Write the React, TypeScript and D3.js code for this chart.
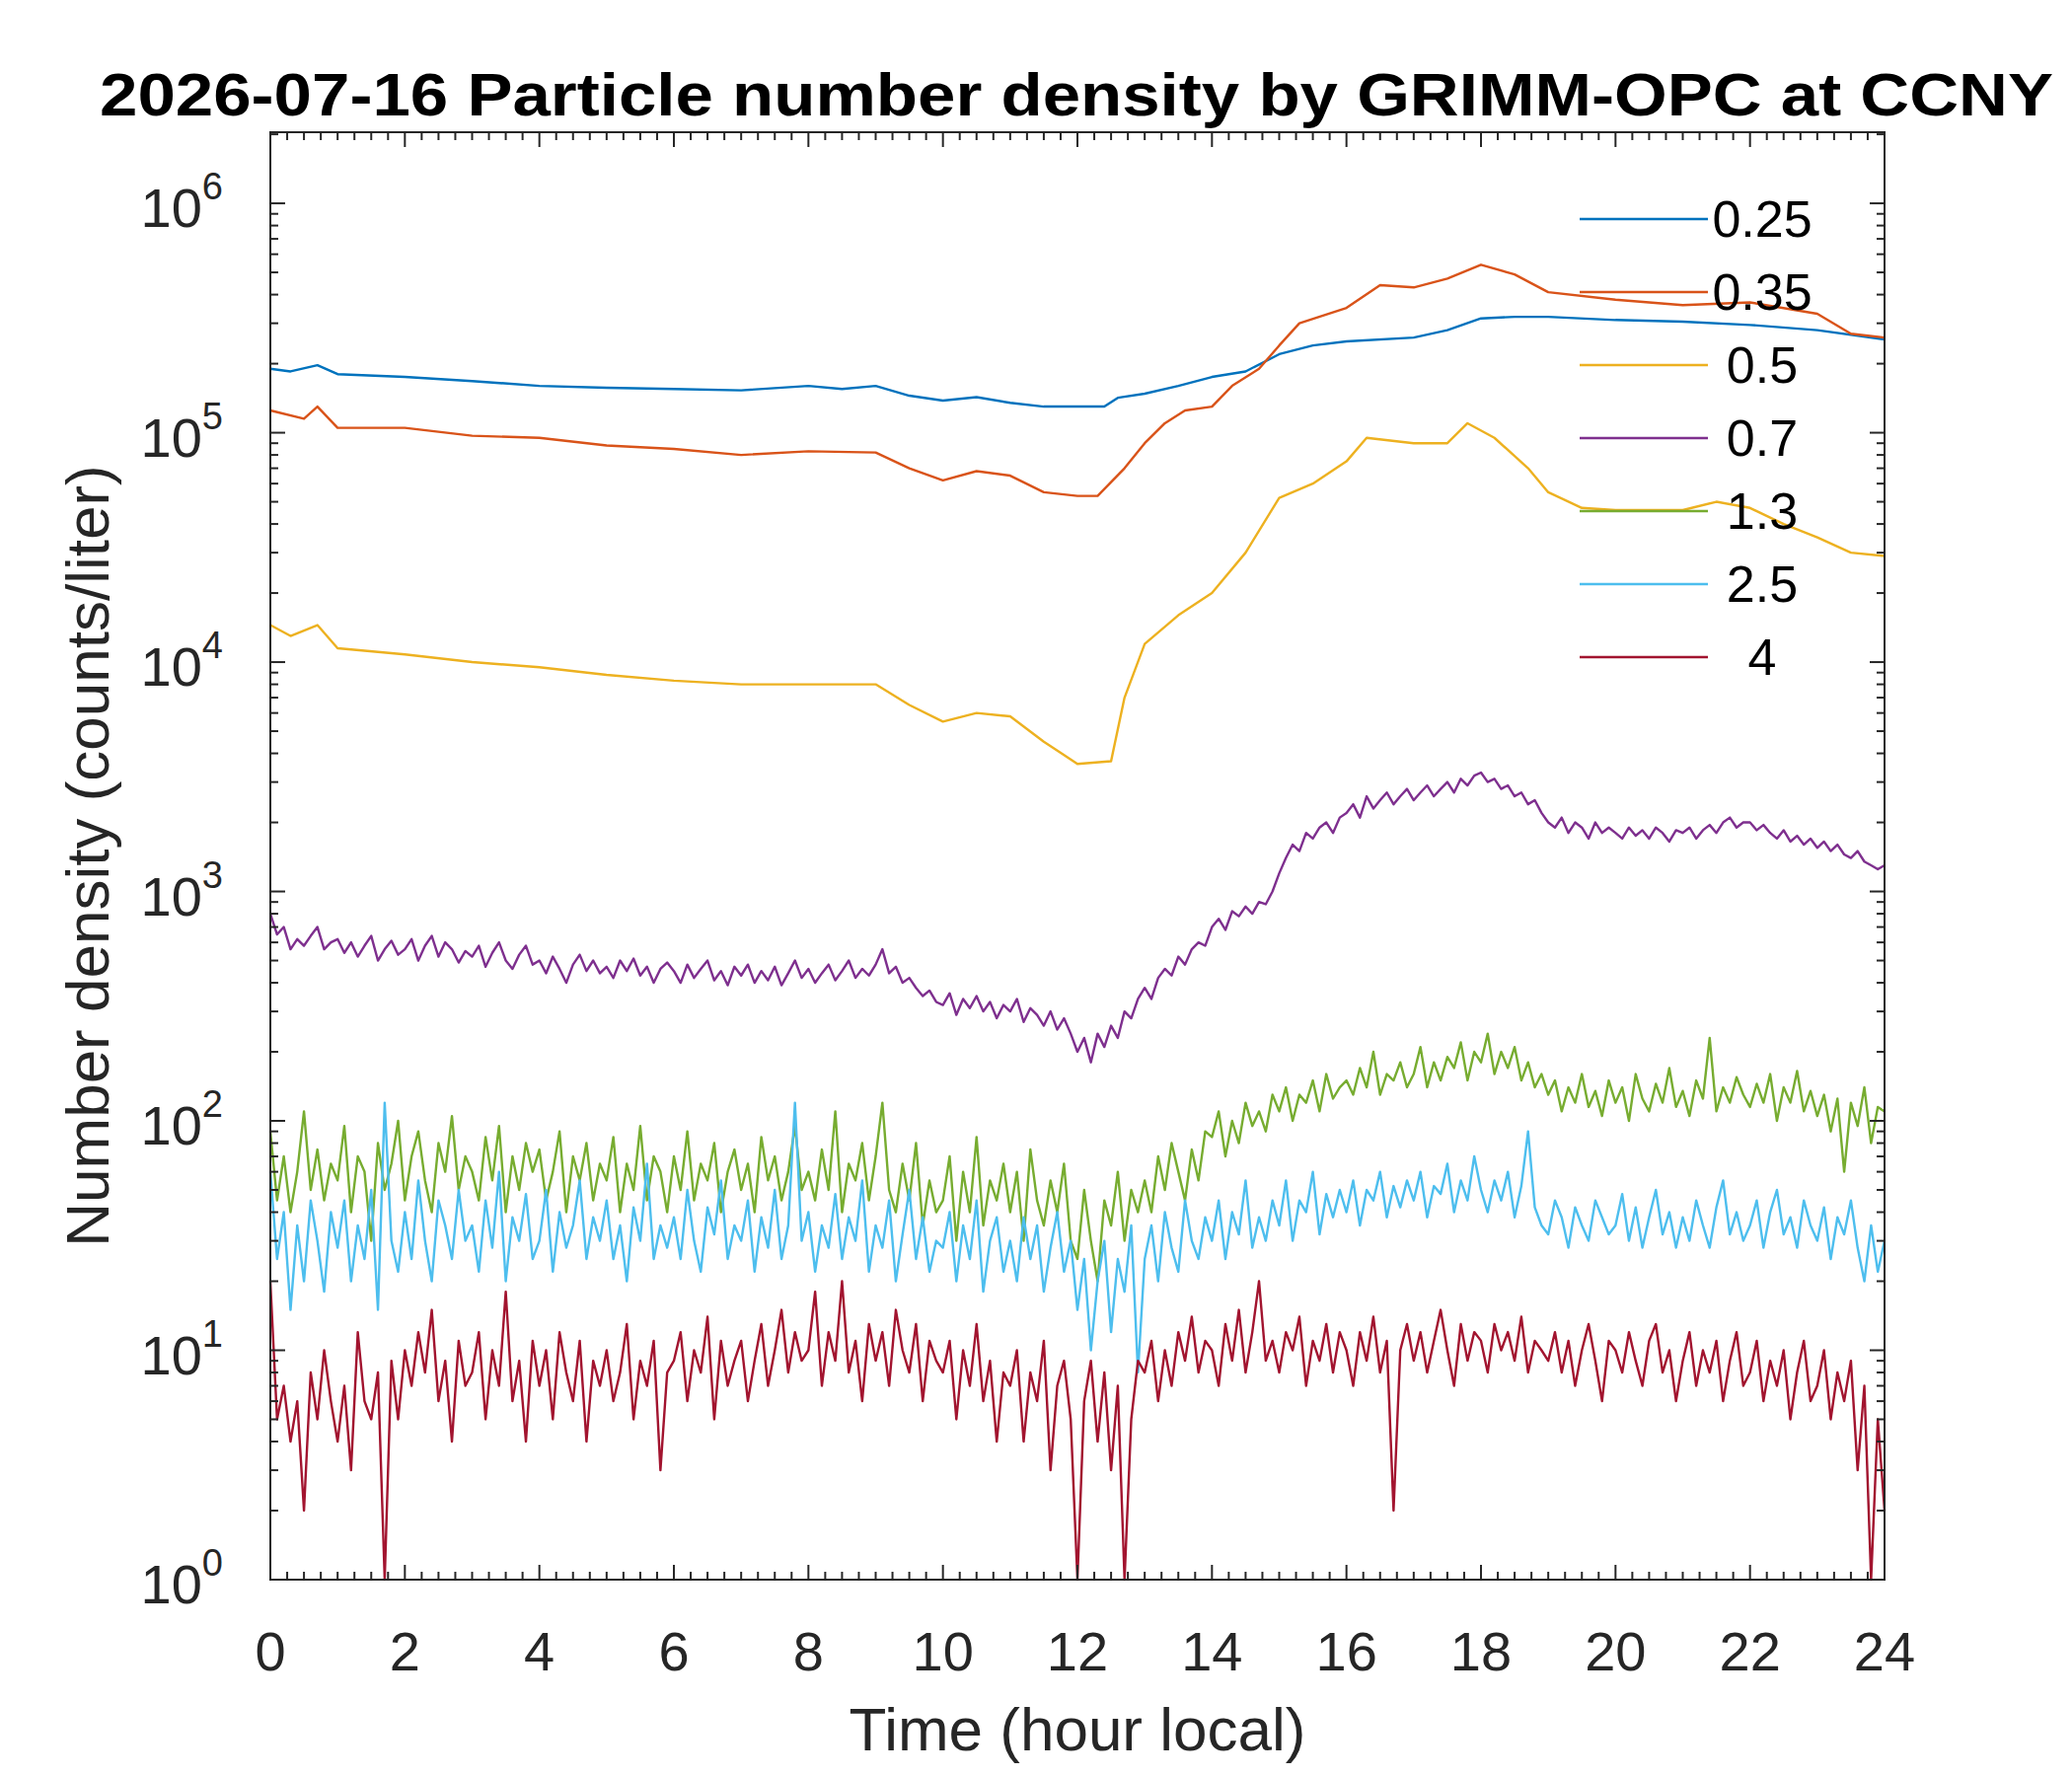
import * as d3 from 'd3';

const colors = ['#0072BD', '#D95319', '#EDB120', '#7E2F8E', '#77AC30', '#4DBEEE', '#A2142F'];
const sizeLabels = ['0.25', '0.35', '0.5', '0.7', '1.3', '2.5', '4'];

// smooth channels: [hour, counts/liter]
const ch025: [number, number][] = [
  [0, 1.9e5], [0.3, 1.85e5], [0.7, 1.97e5], [1, 1.8e5], [2, 1.75e5], [3, 1.68e5], [4, 1.6e5], [5, 1.57e5],
  [6, 1.55e5], [7, 1.53e5], [8, 1.6e5], [8.5, 1.55e5], [9, 1.6e5], [9.5, 1.45e5], [10, 1.38e5], [10.5, 1.43e5],
  [11, 1.35e5], [11.5, 1.3e5], [12, 1.3e5], [12.4, 1.3e5], [12.6, 1.42e5], [13, 1.48e5], [13.5, 1.6e5],
  [14, 1.75e5], [14.5, 1.85e5], [15, 2.2e5], [15.5, 2.4e5], [16, 2.5e5], [17, 2.6e5], [17.5, 2.8e5],
  [18, 3.15e5], [18.5, 3.2e5], [19, 3.2e5], [20, 3.1e5], [21, 3.05e5], [22, 2.95e5], [23, 2.8e5], [24, 2.55e5],
];
const ch035: [number, number][] = [
  [0, 1.25e5], [0.5, 1.15e5], [0.7, 1.3e5], [1, 1.05e5], [2, 1.05e5], [3, 9.7e4], [4, 9.5e4], [5, 8.8e4],
  [6, 8.5e4], [7, 8e4], [8, 8.3e4], [9, 8.2e4], [9.5, 7e4], [10, 6.2e4], [10.5, 6.8e4], [11, 6.5e4],
  [11.5, 5.5e4], [12, 5.3e4], [12.3, 5.3e4], [12.7, 7e4], [13, 9e4], [13.3, 1.1e5], [13.6, 1.25e5],
  [14, 1.3e5], [14.3, 1.6e5], [14.7, 1.9e5], [15, 2.4e5], [15.3, 3e5], [16, 3.5e5], [16.5, 4.4e5],
  [17, 4.3e5], [17.5, 4.7e5], [18, 5.4e5], [18.5, 4.9e5], [19, 4.1e5], [20, 3.8e5], [21, 3.6e5],
  [22, 3.7e5], [23, 3.3e5], [23.5, 2.7e5], [24, 2.6e5],
];
const ch05: [number, number][] = [
  [0, 1.45e4], [0.3, 1.3e4], [0.7, 1.45e4], [1, 1.15e4], [2, 1.08e4], [3, 1e4], [4, 9.5e3], [5, 8.8e3],
  [6, 8.3e3], [7, 8e3], [8, 8e3], [9, 8e3], [9.5, 6.5e3], [10, 5.5e3], [10.5, 6e3], [11, 5.8e3],
  [11.5, 4.5e3], [12, 3.6e3], [12.5, 3.7e3], [12.7, 7e3], [13, 1.2e4], [13.5, 1.6e4], [14, 2e4],
  [14.5, 3e4], [15, 5.2e4], [15.5, 6e4], [16, 7.5e4], [16.3, 9.5e4], [17, 9e4], [17.5, 9e4],
  [17.8, 1.1e5], [18.2, 9.5e4], [18.7, 7e4], [19, 5.5e4], [19.5, 4.7e4], [20, 4.6e4], [21, 4.6e4],
  [21.5, 5e4], [22, 4.7e4], [22.5, 4e4], [23, 3.5e4], [23.5, 3e4], [24, 2.9e4],
];

// noisy channels: one value every 0.1 h, 0..24
const ch07 = [
  800,650,700,560,620,580,640,700,560,600, 620,540,600,520,580,640,500,560,610,530,
  560,620,500,580,640,520,600,560,490,550, 520,580,470,540,600,500,460,530,580,480,
  500,440,520,460,400,480,530,450,500,440, 470,420,500,450,510,430,470,400,460,490,
  450,400,480,420,460,500,410,450,390,470, 430,480,400,450,410,470,390,440,500,420,
  460,400,440,480,410,450,500,420,460,430, 480,560,440,470,400,420,380,350,370,330,
  320,360,290,340,310,350,300,330,280,320, 300,340,270,310,290,260,300,250,280,240,
  200,230,180,240,210,260,230,300,280,340, 380,340,420,460,430,520,480,560,600,580,
  700,760,680,820,780,860,800,900,880,1000, 1200,1400,1600,1500,1800,1700,1900,2000,1800,2100,
  2200,2400,2100,2600,2300,2500,2700,2400,2600,2800, 2500,2700,2900,2600,2800,3000,2700,3100,2900,3200,
  3300,3000,3100,2800,2900,2600,2700,2400,2500,2200, 2000,1900,2100,1800,2000,1900,1700,2000,1800,1900,
  1800,1700,1900,1750,1850,1700,1900,1800,1650,1850, 1800,1900,1700,1850,1950,1800,2000,2100,1900,2000,
  2000,1850,1950,1800,1700,1850,1650,1750,1600,1700, 1550,1650,1500,1600,1450,1400,1500,1350,1300,1250,
  1300,
];
const ch13 = [
  90,45,70,40,60,110,50,75,45,65, 55,95,40,70,60,30,80,50,65,100,
  45,70,90,55,40,80,60,105,50,70, 60,45,85,55,95,40,70,50,80,60,
  75,45,60,90,40,70,55,80,45,65, 55,85,40,65,50,95,45,70,60,40,
  70,50,90,45,65,55,80,40,60,75, 50,65,40,85,55,70,45,60,95,50,
  60,45,75,50,110,40,65,55,80,45, 70,120,50,40,65,45,80,35,55,40,
  45,70,30,60,40,85,35,55,45,65, 40,60,30,75,45,35,55,40,65,30,
  25,50,30,20,45,35,60,30,50,40, 55,40,70,50,80,60,45,75,55,90,
  85,110,70,100,80,120,95,110,90,130, 110,140,100,130,120,150,110,160,125,140,
  150,130,170,140,200,130,160,150,180,140, 160,210,140,180,150,190,170,220,150,200,
  180,240,160,200,170,210,150,180,140,160, 130,150,110,140,120,160,115,135,105,150,
  120,140,100,160,125,110,145,120,170,115, 135,105,150,125,230,110,140,120,155,130,
  115,145,120,160,100,140,120,165,110,135, 105,130,90,125,60,120,95,140,80,115,
  110,
];
const ch25 = [
  60,25,40,15,35,20,45,30,18,40, 28,45,20,35,25,50,15,120,30,22,
  40,25,55,30,20,45,35,25,50,30, 35,22,45,28,60,20,38,30,48,25,
  30,50,22,40,28,35,55,25,38,30, 45,25,35,20,42,30,65,25,35,28,
  38,25,50,30,22,42,32,55,25,35, 30,45,22,38,28,50,25,35,120,30,
  40,22,35,28,48,25,38,30,55,22, 35,28,45,20,32,50,25,38,22,30,
  28,40,20,35,25,45,18,30,38,22, 30,20,38,25,35,18,28,40,22,30,
  15,25,10,20,30,12,25,18,35,8, 25,35,20,40,28,22,45,30,25,38,
  30,45,25,40,32,55,28,38,30,45, 35,55,30,45,40,60,32,48,38,50,
  40,55,35,50,45,60,38,52,42,55, 45,60,38,52,48,65,40,55,45,70,
  50,40,55,45,60,38,52,90,42,35, 32,45,38,28,42,35,30,45,38,32,
  35,48,30,42,28,38,50,32,40,28, 38,30,45,35,28,42,55,32,40,30,
  35,45,28,40,50,32,38,28,45,35, 30,42,25,38,32,45,28,20,35,22,
  30,
];
const ch4 = [
  20,5,7,4,6,2,8,5,10,6, 4,7,3,12,6,5,8,1,9,5,
  10,7,12,8,15,6,9,4,11,7, 8,12,5,10,7,18,6,9,4,11,
  7,10,5,12,8,6,11,4,9,7, 10,6,8,13,5,9,7,11,3,8,
  9,12,6,10,8,14,5,11,7,9, 11,6,9,13,7,10,15,8,12,9,
  10,18,7,12,9,20,8,11,6,13, 9,12,7,15,10,8,13,6,11,9,
  8,11,5,10,7,13,6,9,4,8, 7,10,4,8,6,11,3,7,9,5,
  1,6,9,4,8,3,7,1,5,9, 8,11,6,10,7,12,9,14,8,11,
  10,7,13,9,15,8,12,20,9,11, 8,12,10,14,7,11,9,13,8,12,
  10,7,12,9,14,8,11,2,10,13, 9,12,8,11,15,10,7,13,9,12,
  11,8,13,10,12,9,14,8,11,10, 9,12,8,11,7,10,13,9,6,11,
  10,8,12,9,7,11,13,8,10,6, 9,12,7,10,8,11,6,9,12,7,
  8,11,6,9,7,10,5,8,11,6, 7,10,5,8,6,9,3,7,1,5,
  2,
];

const xTicks = [0, 2, 4, 6, 8, 10, 12, 14, 16, 18, 20, 22, 24];
const yDecades = [0, 1, 2, 3, 4, 5, 6];

const W = 2100, H = 1800;
const L = 274, R = 1910, T = 134, B = 1601;
const ink = '#262626';
const font = '"Liberation Sans", Arial, sans-serif';

export default function App() {
  const x = d3.scaleLinear().domain([0, 24]).range([L, R]);
  const y = d3.scaleLog().domain([1, Math.pow(10, 6.31)]).range([B, T]);
  const line = d3.line<[number, number]>().x(d => x(d[0])).y(d => y(Math.max(1, d[1])));
  const noisy = (arr: number[]) => arr.map((v, i) => [i * 0.1, v] as [number, number]);
  const series = [ch025, ch035, ch05, noisy(ch07), noisy(ch13), noisy(ch25), noisy(ch4)];

  const minorX = d3.range(0, 24.001, 0.25).filter(t => Math.abs(t / 2 - Math.round(t / 2)) > 1e-6);
  const minorY: number[] = [];
  for (let e = 0; e <= 6; e++) for (let k = 2; k <= 9; k++) {
    const v = k * Math.pow(10, e);
    if (v <= Math.pow(10, 6.31)) minorY.push(v);
  }

  return (
    <svg width={W} height={H} style={{ display: 'block', margin: -8, background: '#fff' }}>
      <g fill="none" strokeWidth={2.4} strokeLinejoin="round">
        {series.map((s, i) => <path key={i} d={line(s) || ''} stroke={colors[i]} />)}
      </g>
      <rect x={L} y={T} width={R - L} height={B - T} fill="none" stroke={ink} strokeWidth={2} />
      <g stroke={ink} strokeWidth={2}>
        {xTicks.map(t => <g key={'x' + t}>
          <line x1={x(t)} x2={x(t)} y1={B} y2={B - 15} />
          <line x1={x(t)} x2={x(t)} y1={T} y2={T + 15} />
        </g>)}
        {minorX.map(t => <g key={'mx' + t}>
          <line x1={x(t)} x2={x(t)} y1={B} y2={B - 8} />
          <line x1={x(t)} x2={x(t)} y1={T} y2={T + 8} />
        </g>)}
        {yDecades.map(e => <g key={'y' + e}>
          <line x1={L} x2={L + 15} y1={y(Math.pow(10, e))} y2={y(Math.pow(10, e))} />
          <line x1={R} x2={R - 15} y1={y(Math.pow(10, e))} y2={y(Math.pow(10, e))} />
        </g>)}
        {minorY.map(v => <g key={'my' + v}>
          <line x1={L} x2={L + 8} y1={y(v)} y2={y(v)} />
          <line x1={R} x2={R - 8} y1={y(v)} y2={y(v)} />
        </g>)}
      </g>
      <g fontFamily={font} fill={ink} fontSize={56}>
        {xTicks.map(t => <text key={t} x={x(t)} y={B + 92} textAnchor="middle">{t}</text>)}
        {yDecades.map(e => <text key={e} x={L - 48} y={y(Math.pow(10, e)) + 24} textAnchor="end">
          10<tspan dy={-28} fontSize={38}>{e}</tspan>
        </text>)}
        <text x={(L + R) / 2} y={1774} textAnchor="middle" fontSize={62}>Time (hour local)</text>
        <text transform={`translate(110,${(T + B) / 2}) rotate(-90)`} textAnchor="middle" fontSize={62}>
          Number density (counts/liter)
        </text>
      </g>
      <text x={1091} y={117} textAnchor="middle" fontFamily={font} fontWeight="bold" fontSize={62}
        textLength={1980} lengthAdjust="spacingAndGlyphs" fill="#000">
        2026-07-16 Particle number density by GRIMM-OPC at CCNY
      </text>
      <g fontFamily={font} fontSize={52} fill="#000">
        {sizeLabels.map((s, i) => <g key={s}>
          <line x1={1601} x2={1731} y1={222 + 74 * i} y2={222 + 74 * i} stroke={colors[i]} strokeWidth={2.4} />
          <text x={1786} y={240 + 74 * i} textAnchor="middle">{s}</text>
        </g>)}
      </g>
    </svg>
  );
}
